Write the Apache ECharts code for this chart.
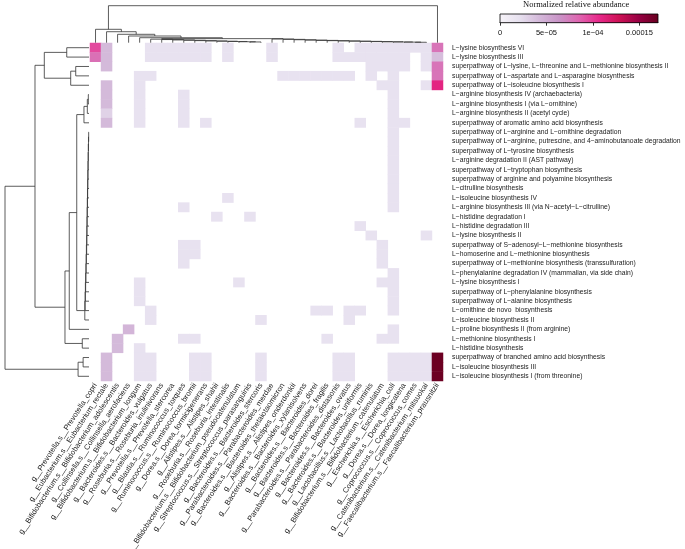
<!DOCTYPE html>
<html><head><meta charset="utf-8">
<script src="https://cdn.jsdelivr.net/npm/echarts@6/dist/echarts.min.js"></script>
<style>html,body{margin:0;padding:0;background:#fff}#c{width:685px;height:549px}</style>
</head><body><div id="c"></div>
<script>
// ---------- DATA ----------
const pathways = [
 'L\u2212lysine biosynthesis VI',
 'L\u2212lysine biosynthesis III',
 'superpathway of L\u2212lysine, L\u2212threonine and L\u2212methionine biosynthesis II',
 'superpathway of L\u2212aspartate and L\u2212asparagine biosynthesis',
 'superpathway of L\u2212isoleucine biosynthesis I',
 'L\u2212arginine biosynthesis IV (archaebacteria)',
 'L\u2212arginine biosynthesis I (via L\u2212ornithine)',
 'L\u2212arginine biosynthesis II (acetyl cycle)',
 'superpathway of aromatic amino acid biosynthesis',
 'superpathway of L\u2212arginine and L\u2212ornithine degradation',
 'superpathway of L\u2212arginine, putrescine, and 4\u2212aminobutanoate degradation',
 'superpathway of L\u2212tyrosine biosynthesis',
 'L\u2212arginine degradation II (AST pathway)',
 'superpathway of L\u2212tryptophan biosynthesis',
 'superpathway of arginine and polyamine biosynthesis',
 'L\u2212citrulline biosynthesis',
 'L\u2212isoleucine biosynthesis IV',
 'L\u2212arginine biosynthesis III (via N\u2212acetyl\u2212L\u2212citrulline)',
 'L\u2212histidine degradation I',
 'L\u2212histidine degradation III',
 'L\u2212lysine biosynthesis II',
 'superpathway of S\u2212adenosyl\u2212L\u2212methionine biosynthesis',
 'L\u2212homoserine and L\u2212methionine biosynthesis',
 'superpathway of L\u2212methionine biosynthesis (transsulfuration)',
 'L\u2212phenylalanine degradation IV (mammalian, via side chain)',
 'L\u2212lysine biosynthesis I',
 'superpathway of L\u2212phenylalanine biosynthesis',
 'superpathway of L\u2212alanine biosynthesis',
 'L\u2212ornithine de novo  biosynthesis',
 'L\u2212isoleucine biosynthesis II',
 'L\u2212proline biosynthesis II (from arginine)',
 'L\u2212methionine biosynthesis I',
 'L\u2212histidine biosynthesis',
 'superpathway of branched amino acid biosynthesis',
 'L\u2212isoleucine biosynthesis III',
 'L\u2212isoleucine biosynthesis I (from threonine)'
];
const taxa = [
 'g__Prevotella.s__Prevotella_copri',
 'g__Eubacterium.s__Eubacterium_rectale',
 'g__Bifidobacterium.s__Bifidobacterium_adolescentis',
 'g__Collinsella.s__Collinsella_aerofaciens',
 'g__Bifidobacterium.s__Bifidobacterium_longum',
 'g__Bacteroides.s__Bacteroides_vulgatus',
 'g__Roseburia.s__Roseburia_inulinivorans',
 'g__Prevotella.s__Prevotella_stercorea',
 'g__Blautia.s__Ruminococcus_torques',
 'g__Ruminococcus.s__Ruminococcus_bromii',
 'g__Dorea.s__Dorea_formicigenerans',
 'g__Alistipes.s__Alistipes_shahii',
 'g__Roseburia.s__Roseburia_intestinalis',
 'g__Bifidobacterium.s__Bifidobacterium_pseudocatenulatum',
 'g__Streptococcus.s__Streptococcus_parasanguinis',
 'g__Bacteroides.s__Bacteroides_stercoris',
 'g__Parabacteroides.s__Parabacteroides_merdae',
 'g__Bacteroides.s__Bacteroides_thetaiotaomicron',
 'g__Alistipes.s__Alistipes_onderdonkii',
 'g__Bacteroides.s__Bacteroides_xylanisolvens',
 'g__Bacteroides.s__Bacteroides_dorei',
 'g__Bacteroides.s__Bacteroides_fragilis',
 'g__Parabacteroides.s__Parabacteroides_distasonis',
 'g__Bacteroides.s__Bacteroides_ovatus',
 'g__Bacteroides.s__Bacteroides_uniformis',
 'g__Lactobacillus.s__Lactobacillus_ruminis',
 'g__Bifidobacterium.s__Bifidobacterium_catenulatum',
 'g__Escherichia.s__Escherichia_coli',
 'g__Dorea.s__Dorea_longicatena',
 'g__Coprococcus.s__Coprococcus_comes',
 'g__Catenibacterium.s__Catenibacterium_mitsuokai',
 'g__Faecalibacterium.s__Faecalibacterium_prausnitzii'
];
// non-zero cells per pathway (row): [taxon index, normalized relative abundance]
const pathwayCells = [
 [[0,9.5e-5],[1,4.2e-5],[5,2e-5],[6,2e-5],[7,2e-5],[8,2e-5],[9,2e-5],[10,2e-5],[12,2e-5],[16,2e-5],[22,2e-5],[24,2e-5],[25,2e-5],[26,2e-5],[27,2e-5],[28,2e-5],[29,2e-5],[30,2e-5],[31,7.8e-5]],
 [[0,8e-5],[1,4.2e-5],[5,2e-5],[6,2e-5],[7,2e-5],[8,2e-5],[9,2e-5],[10,2e-5],[12,2e-5],[16,2e-5],[22,2e-5],[23,2e-5],[24,2e-5],[25,2e-5],[26,2e-5],[27,2e-5],[28,2e-5],[30,2e-5],[31,4e-5]],
 [[1,4.2e-5],[25,2e-5],[26,2e-5],[27,2e-5],[28,2e-5],[30,2e-5],[31,7.8e-5]],
 [[4,2e-5],[5,2e-5],[17,2e-5],[18,2e-5],[19,2e-5],[20,2e-5],[21,2e-5],[22,2e-5],[23,2e-5],[25,2e-5],[27,2e-5],[31,7.8e-5]],
 [[1,4.2e-5],[4,2e-5],[26,2e-5],[27,2e-5],[30,2e-5],[31,1.1e-4]],
 [[1,4.2e-5],[4,2e-5],[8,2e-5],[27,2e-5]],
 [[1,4.2e-5],[4,2e-5],[8,2e-5],[27,2e-5]],
 [[1,2.9e-5],[4,2e-5],[8,2e-5],[27,2e-5]],
 [[1,4.2e-5],[4,2e-5],[8,2e-5],[10,2e-5],[24,2e-5],[27,2e-5],[28,2e-5]],
 [[27,2e-5]],
 [[27,2e-5]],
 [[27,2e-5]],
 [[27,2e-5]],
 [[27,2e-5]],
 [[27,2e-5]],
 [[27,2e-5]],
 [[12,2e-5],[27,2e-5]],
 [[8,2e-5],[27,2e-5]],
 [[11,2e-5],[14,2e-5]],
 [[24,2e-5]],
 [[25,2e-5],[30,2e-5]],
 [[8,2e-5],[9,2e-5],[26,2e-5]],
 [[8,2e-5],[9,2e-5],[26,2e-5]],
 [[8,2e-5],[26,2e-5]],
 [[27,2e-5]],
 [[4,2e-5],[13,2e-5],[26,2e-5],[27,2e-5]],
 [[4,2e-5],[27,2e-5]],
 [[4,2e-5],[27,2e-5]],
 [[5,2e-5],[20,2e-5],[21,2e-5],[23,2e-5],[24,2e-5],[27,2e-5]],
 [[5,2e-5],[15,2e-5],[23,2e-5]],
 [[3,4.5e-5],[27,2e-5]],
 [[2,4.2e-5],[8,2e-5],[9,2e-5],[21,2e-5],[26,2e-5],[27,2e-5]],
 [[2,4.2e-5],[4,2e-5]],
 [[1,4.2e-5],[4,2e-5],[5,2e-5],[9,2e-5],[10,2e-5],[15,2e-5],[22,2e-5],[23,2e-5],[27,2e-5],[28,2e-5],[29,2e-5],[30,2e-5],[31,1.68e-4]],
 [[1,4.2e-5],[4,2e-5],[5,2e-5],[9,2e-5],[10,2e-5],[15,2e-5],[22,2e-5],[23,2e-5],[27,2e-5],[28,2e-5],[29,2e-5],[30,2e-5],[31,1.68e-4]],
 [[1,4.2e-5],[4,2e-5],[5,2e-5],[9,2e-5],[10,2e-5],[15,2e-5],[22,2e-5],[23,2e-5],[27,2e-5],[28,2e-5],[29,2e-5],[30,2e-5],[31,1.68e-4]]
];
// dendrograms: node = [merge height, left, right]; leaves are row / column indices
const rowTree = [1.0,
  [0.643,
    [0.532, [0.265, 0, 1], [0.218, [0.158, 2, 3], 4]],
    [0.286,
      [0.235,
        [0.146,
          [0.06, [0.02, [0.008, 5, 6], 7], 8],
          [0.05,[0.046,[0.043,[0.04,[0.037,[0.034,[0.031,[0.028,[0.026,[0.024,[0.022,[0.02,[0.018,[0.016,[0.014,[0.012,[0.01,[0.008,[0.006,[0.004,9,10],11],12],13],14],15],16],17],18],19],20],21],22],23],24],25],26],27],28],29]],
        30],
      [0.08, 31, 32]]],
  [0.13, [0.07, 33, 34], 35]];
const colTree = [1.0,
  [0.362, 0, [0.297, 1, [0.227, 2, [0.181, 3, [0.135, 4,
    [0.11,
      [0.095,5,[0.085,6,[0.075,7,[0.065,8,[0.056,9,[0.048,10,[0.04,11,[0.033,12,[0.026,13,[0.02,14,15]]]]]]]]]],
      [0.1,16,[0.09,17,[0.08,18,[0.07,19,[0.062,20,[0.055,21,[0.048,22,[0.042,23,[0.036,24,[0.03,25,[0.025,26,[0.02,27,[0.016,28,[0.012,29,30]]]]]]]]]]]]]]
    ]]]]]],
  31];
const scaleMax = 0.00017;
const scaleTicks = [0, 0.00005, 0.0001, 0.00015];
const scaleTickLabels = ['0', '5e\u221205', '1e\u221204', '0.00015'];
const puRd = ['#F7F4F9','#E7E1EF','#D4B9DA','#C994C7','#DF65B0','#E7298A','#CE1256','#980043','#67001F'];

// ---------- BUILD ----------
const heatData = [];
pathwayCells.forEach((cells, r) => cells.forEach(([c, v]) => heatData.push([c, r, v])));

function layout(node, segs) {
  if (typeof node === 'number') return {p: node, h: 0};
  const L = layout(node[1], segs), R = layout(node[2], segs);
  segs.push([L.p, L.h, R.p, R.h, node[0]]);
  return {p: (L.p + R.p) / 2, h: node[0]};
}
const rowSegs = []; layout(rowTree, rowSegs);
const colSegs = []; layout(colTree, colSegs);

function dendroRender(orient) {
  return function (params, api) {
    const pL = api.value(0), hL = api.value(1), pR = api.value(2), hR = api.value(3), h = api.value(4);
    const f = orient === 'col' ? (p, hh) => api.coord([p, hh]) : (p, hh) => api.coord([hh, p]);
    return {type: 'polyline', shape: {points: [f(pL, hL), f(pL, h), f(pR, h), f(pR, hR)]},
      style: {stroke: '#333', lineWidth: 0.8, fill: null}};
  };
}

const FONT = '"Liberation Sans", Arial, Helvetica, sans-serif';
const chart = echarts.init(document.getElementById('c'), null, {renderer: 'canvas'});
const hidden = {show: false};
chart.setOption({
  animation: false,
  backgroundColor: '#fff',
  textStyle: {fontFamily: FONT},
  title: {text: 'Normalized relative abundance', left: 523, top: 0, padding: 0,
    textStyle: {fontFamily: '"Liberation Serif", "Times New Roman", serif', fontSize: 8.5, fontWeight: 'normal', color: '#111'}},
  grid: [
    {left: 90, top: 43, width: 353, height: 338, outerBoundsMode: 'none', containLabel: false},
    {left: 5, top: 43, width: 84, height: 338, outerBoundsMode: 'none'},
    {left: 90, top: 5.7, width: 353, height: 37, outerBoundsMode: 'none'},
    {left: 500, top: 14, width: 158, height: 8.7, outerBoundsMode: 'none'}
  ],
  xAxis: [
    {gridIndex: 0, type: 'category', data: taxa, axisLine: hidden, axisTick: hidden, splitLine: hidden,
     axisLabel: {interval: 0, rotate: 57, fontSize: 7.6, margin: 3, color: '#222', fontFamily: FONT, hideOverlap: false}},
    {gridIndex: 1, type: 'value', min: 0, max: 1, inverse: true, show: false},
    {gridIndex: 2, type: 'value', min: -0.5, max: 31.5, show: false},
    {gridIndex: 3, type: 'value', min: 0, max: scaleMax, splitLine: hidden,
     axisLine: {show: true, lineStyle: {color: '#000', width: 0.8}},
     axisTick: {show: true, length: 3, customValues: scaleTicks, lineStyle: {color: '#000', width: 0.8}},
     axisLabel: {customValues: scaleTicks, margin: 6, fontSize: 7.5, color: '#111', fontFamily: FONT,
       formatter: v => { const i = scaleTicks.findIndex(t => Math.abs(t - v) < 1e-9); return i >= 0 ? scaleTickLabels[i] : ''; }}}
  ],
  yAxis: [
    {gridIndex: 0, type: 'category', data: pathways, inverse: true, position: 'right',
     axisLine: hidden, axisTick: hidden, splitLine: hidden,
     axisLabel: {interval: 0, fontSize: 6.75, margin: 9, color: '#222', fontFamily: FONT}},
    {gridIndex: 1, type: 'value', min: -0.5, max: 35.5, inverse: true, show: false},
    {gridIndex: 2, type: 'value', min: 0, max: 1, show: false},
    {gridIndex: 3, type: 'value', min: 0, max: 1, show: false}
  ],
  visualMap: {type: 'continuous', show: false, min: 0, max: scaleMax, seriesIndex: 0, inRange: {color: puRd}},
  series: [
    {type: 'heatmap', xAxisIndex: 0, yAxisIndex: 0, data: heatData, itemStyle: {borderWidth: 0}, emphasis: {disabled: true}},
    {type: 'custom', xAxisIndex: 1, yAxisIndex: 1, data: rowSegs, renderItem: dendroRender('row'), silent: true},
    {type: 'custom', xAxisIndex: 2, yAxisIndex: 2, data: colSegs, renderItem: dendroRender('col'), silent: true},
    {type: 'custom', xAxisIndex: 3, yAxisIndex: 3, data: [[0, 0, scaleMax, 1]], silent: true,
     renderItem: function (params, api) {
       const a = api.coord([api.value(0), api.value(1)]), b = api.coord([api.value(2), api.value(3)]);
       const stops = puRd.map((c, i) => ({offset: i / (puRd.length - 1), color: c}));
       return {type: 'rect', shape: {x: a[0], y: b[1], width: b[0] - a[0], height: a[1] - b[1]},
         style: {fill: new echarts.graphic.LinearGradient(0, 0, 1, 0, stops), stroke: '#000', lineWidth: 0.8}};
     }}
  ]
});
</script>
</body></html>
